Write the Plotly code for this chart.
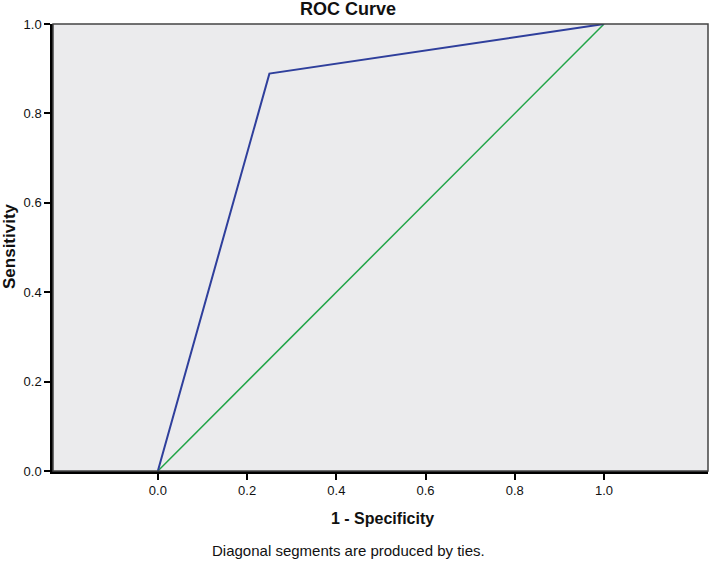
import plotly.graph_objects as go

# ROC data
fpr = [0.0, 0.25, 1.0]
tpr = [0.0, 0.889, 1.0]
ref_x = [0.0, 1.0]
ref_y = [0.0, 1.0]
tick_vals = [0.0, 0.2, 0.4, 0.6, 0.8, 1.0]
tick_text = ["0.0", "0.2", "0.4", "0.6", "0.8", "1.0"]

W, H = 711, 563
L, R, T, B = 53, 3, 24, 92
pw, ph = W - L - R, H - T - B


def px_x(x):
    return (x - L) / pw


def px_y(y):
    return (H - B - y) / ph


fig = go.Figure()
fig.add_trace(go.Scatter(x=ref_x, y=ref_y, mode="lines",
                         line=dict(color="#22a548", width=1.5), hoverinfo="skip"))
fig.add_trace(go.Scatter(x=fpr, y=tpr, mode="lines",
                         line=dict(color="#2f3f9c", width=2)))

# thin frame on top/right
fig.add_shape(type="rect", xref="paper", yref="paper", x0=0, y0=0, x1=1, y1=1,
              line=dict(color="#444444", width=1.5), layer="above")

font = dict(family="Arial, Liberation Sans, sans-serif", size=13, color="#111111")
axis_common = dict(tickvals=tick_vals, ticktext=tick_text, showgrid=False,
                   zeroline=False, showline=True, linecolor="black", linewidth=2.5,
                   ticks="outside", ticklen=6, tickwidth=2, tickcolor="black",
                   automargin=False, tickfont=dict(size=13))

fig.update_layout(
    width=W, height=H,
    margin=dict(l=L, r=R, t=T, b=B),
    paper_bgcolor="white",
    plot_bgcolor="#ebebed",
    showlegend=False,
    font=font,
    xaxis=dict(range=[-0.235, 1.233], **axis_common),
    yaxis=dict(range=[0, 1], **axis_common),
    annotations=[
        dict(text="<b>ROC Curve</b>", xref="paper", yref="paper",
             x=px_x(348), y=px_y(9), xanchor="center", yanchor="middle",
             showarrow=False, font=dict(size=18)),
        dict(text="<b>1 - Specificity</b>", xref="paper", yref="paper",
             x=px_x(382), y=px_y(518), xanchor="center", yanchor="middle",
             showarrow=False, font=dict(size=16)),
        dict(text="<b>Sensitivity</b>", xref="paper", yref="paper",
             x=px_x(10), y=px_y(246), xanchor="center", yanchor="middle",
             textangle=-90, showarrow=False, font=dict(size=17)),
        dict(text="Diagonal segments are produced by ties.",
             xref="paper", yref="paper", x=px_x(348), y=px_y(550),
             xanchor="center", yanchor="middle", showarrow=False,
             font=dict(size=15)),
    ],
)

# drop the browser's default body margin so the figure sits at (0, 0)
fig.write_html("out.html", config={"displayModeBar": False},
               post_script="document.body.style.margin='0';")
